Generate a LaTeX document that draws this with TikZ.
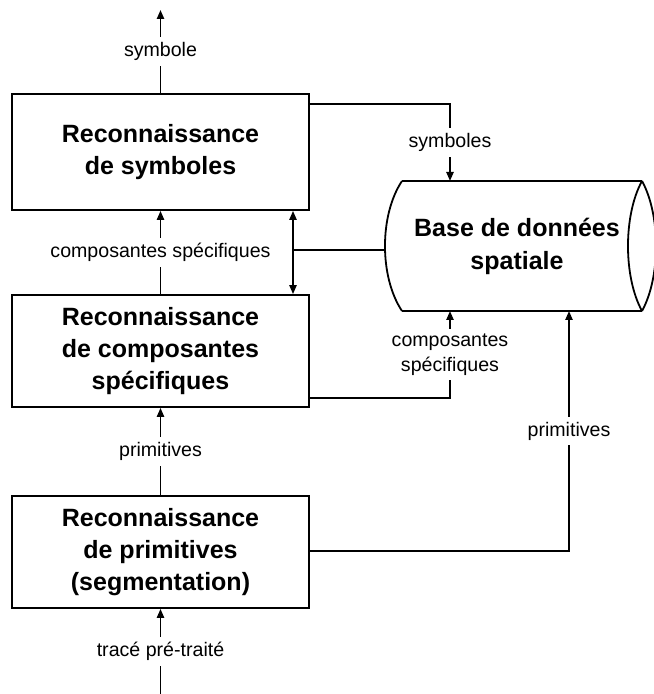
\documentclass[tikz,border=0pt]{standalone}
\usepackage{fontspec}
\setmainfont{Liberation Sans}
\usetikzlibrary{arrows.meta,calc}
\begin{document}
\begin{tikzpicture}[x=0.5pt,y=-0.5pt,
  box/.style={draw, line width=0.9pt, minimum width=148.5pt, minimum height=56pt, align=center, font=\bfseries\fontsize{12.5}{16}\selectfont, inner sep=0pt},
  lab/.style={fill=white, font=\fontsize{9.8}{12.5}\selectfont, inner sep=2.5pt, align=center},
  conn/.style={line width=0.9pt},
  arr/.style={conn, -{Triangle[length=4.5pt,width=3.6pt]}},
  dbl/.style={conn, {Triangle[length=4.5pt,width=3.6pt]}-{Triangle[length=4.5pt,width=3.6pt]}},
]
\useasboundingbox (0,0) rectangle (653,694);
% boxes
\node[box, minimum height=58pt] (b1) at (160.5,152) {Reconnaissance\\de symboles};
\node[box] (b2) at (160.5,351) {Reconnaissance\\de composantes\\spécifiques};
\node[box] (b3) at (160.5,552) {Reconnaissance\\de primitives\\(segmentation)};
% cylinder (database)
\draw[conn] (402,181) -- (642,181);
\draw[conn] (402,311) -- (642,311);
\draw[conn] (402,181) .. controls (379.3,215) and (379.3,277) .. (402,311);
\draw[conn] (642,181) .. controls (623.3,215) and (623.3,277) .. (642,311);
\draw[conn] (642,181) .. controls (660.7,215) and (660.7,277) .. (642,311);
\node[font=\bfseries\fontsize{12.5}{16.5}\selectfont, align=center] (db) at (517,246) {Base de données\\spatiale};
% coordinates
\coordinate (cT) at (450,181);
\coordinate (cB1) at (450,311);
\coordinate (cB2) at (569,311);
\coordinate (cL) at (385.2,250);
\coordinate (top) at (160.5,10);
\coordinate (bot) at (160.5,694);
\coordinate (dx) at (293,250);
% connectors
\draw[arr] (b1.north) -- node[lab]{symbole} (top);
\draw[arr] (b2.north) -- node[lab]{composantes spécifiques} (b1.south);
\draw[arr] (b3.north) -- node[lab]{primitives} (b2.south);
\draw[arr] (bot) -- node[lab]{tracé pré-traité} (b3.south);
\draw[dbl] (b1.south -| dx) -- (b2.north -| dx);
\draw[conn] (dx) -- (cL);
\draw[arr] ($(b1.north east)+(0,11)$) -| node[lab,pos=0.75]{symboles} (cT);
\draw[arr] ($(b2.south east)+(0,-10)$) -| node[lab,pos=0.75]{composantes\\spécifiques} (cB1);
\draw[arr] ($(b3.east)+(0,-1)$) -| node[lab,pos=0.75]{primitives} (cB2);
\end{tikzpicture}
\end{document}
